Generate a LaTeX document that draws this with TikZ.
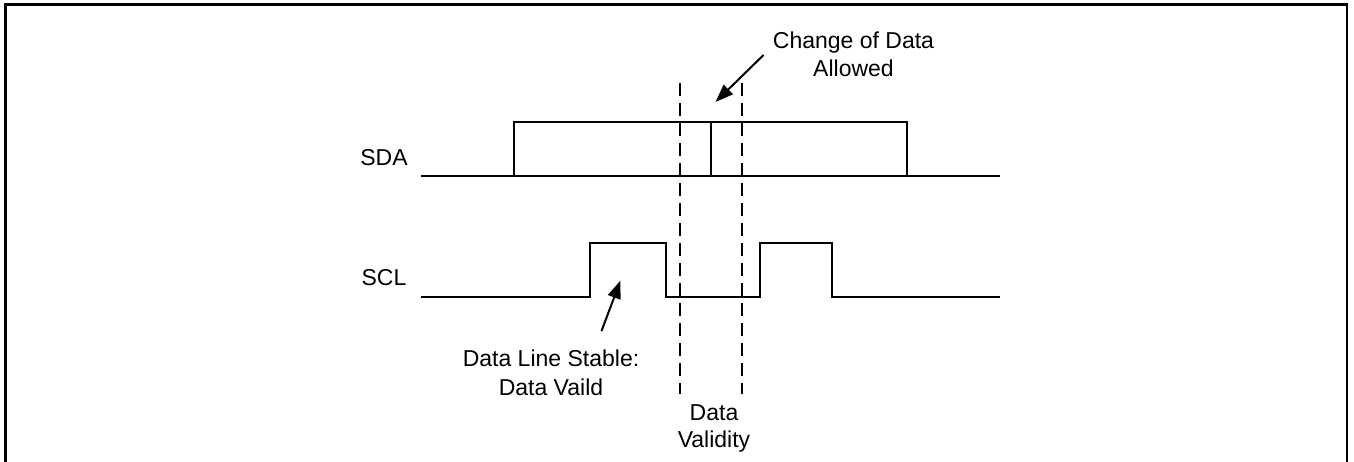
\documentclass[tikz,border=0pt]{standalone}
\usepackage{fontspec}
\setmainfont{Liberation Sans}
\usetikzlibrary{arrows.meta}
\begin{document}
\begin{tikzpicture}[x=1pt,y=-1pt,
  lbl/.style={inner sep=0pt,anchor=base,font=\fontsize{23}{27}\selectfont},
  sig/.style={line width=2pt,line join=miter},
  guide/.style={line width=2pt,dash pattern=on 13pt off 7pt},
  pointer/.style={line width=2pt,-{Triangle[length=18pt,width=13pt]}},
  frameline/.style={line width=2.7pt}]
\clip (0,0) rectangle (1354,461);
% outer frame
\draw[frameline] (5.3,475) -- (5.3,4.5) -- (1347,4.5) -- (1347,475);
% labels
\node[lbl] (sda) at (384,165) {SDA};
\node[lbl] (scl) at (384,285) {SCL};
\node[lbl] (chg1) at (853.5,48.5) {Change of Data};
\node[lbl] (chg2) at (853.5,76.5) {Allowed};
\node[lbl] (stb1) at (551,366.5) {Data Line Stable:};
\node[lbl] (stb2) at (551,395) {Data Vaild};
\node[lbl] (val1) at (714,420) {Data};
\node[lbl] (val2) at (714,447) {Validity};
% SDA
\draw[sig] (421,176) -- (1000,176);
\draw[sig] (514,176) -- (514,122) -- (907,122) -- (907,176);
\draw[sig] (711,122) -- (711,176);
% SCL
\draw[sig] (421,296.7) -- (590,296.7) -- (590,242.7) -- (666,242.7) -- (666,296.7)
  -- (760,296.7) -- (760,242.7) -- (832,242.7) -- (832,296.7) -- (1000,296.7);
% validity window
\draw[guide] (680,83) -- (680,394);
\draw[guide] (741.7,83) -- (741.7,394);
% pointers
\coordinate (a1s) at (763.5,55);
\coordinate (a1e) at (715.5,102);
\draw[pointer] (a1s) -- (a1e);
\coordinate (a2s) at (601.5,331);
\coordinate (a2e) at (620.5,280.5);
\draw[pointer] (a2s) -- (a2e);
\end{tikzpicture}
\end{document}
